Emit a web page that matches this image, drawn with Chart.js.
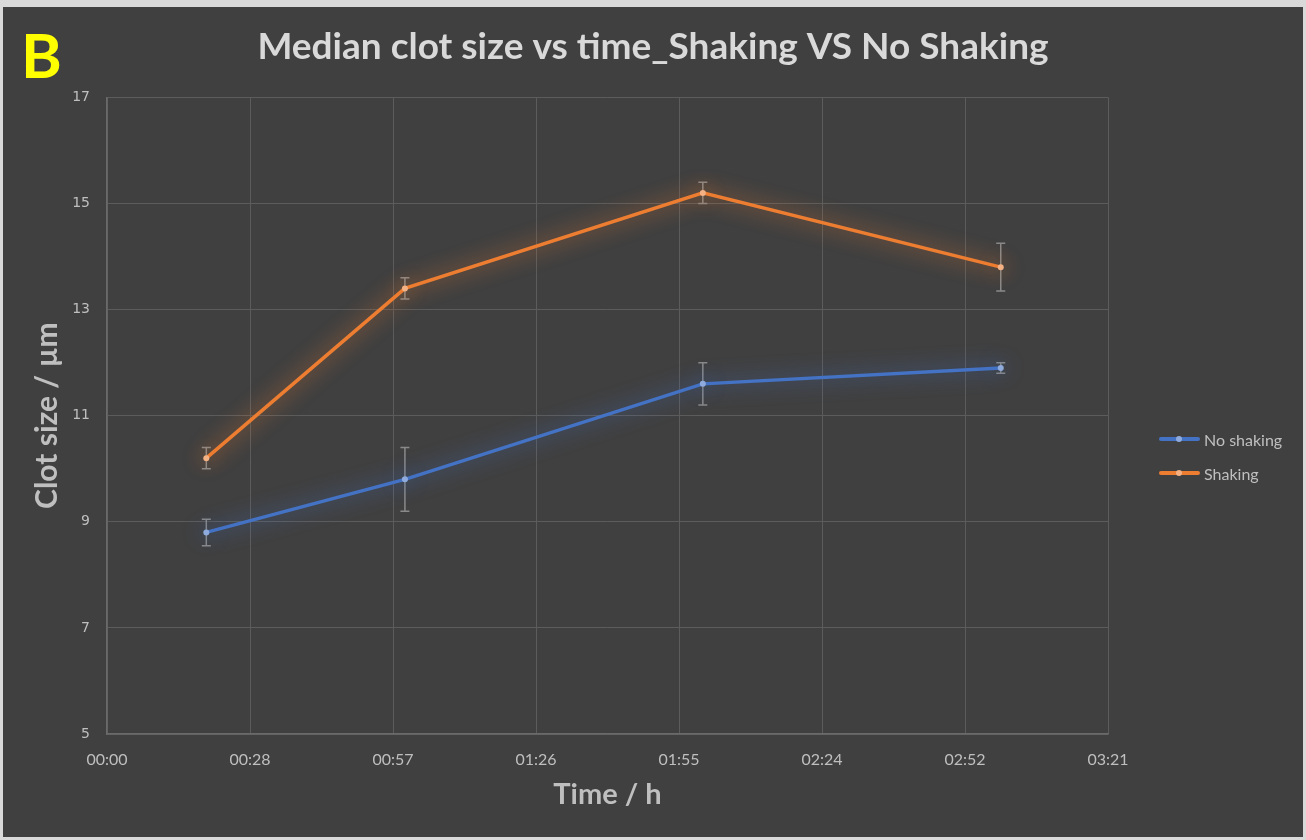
<!DOCTYPE html>
<html>
<head>
<meta charset="utf-8">
<script src="https://cdn.jsdelivr.net/npm/chart.js@4"></script>
<style>
  html, body { margin:0; padding:0; background:#d9d9d9; width:1306px; height:840px; overflow:hidden; }
  #box { position:absolute; left:3px; top:7px; width:1300px; height:830px; background:#404040; }
  #tag { position:absolute; left:18px; top:10px; font:bold 62px Lato, sans-serif; color:#ffff00; }
  #legend { position:absolute; left:1156px; top:421px; font:16px Lato, sans-serif; color:#bfbfbf; }
  #legend .it { display:flex; align-items:center; height:22px; margin-bottom:12px; }
  #legend .mk { position:relative; width:41px; height:4px; border-radius:2px; margin-right:4px; }
  #legend .mk i { position:absolute; left:17px; top:-1px; width:6px; height:6px; border-radius:3px; }
</style>
</head>
<body>
<div id="box">
  <canvas id="c" width="1300" height="830"></canvas>
  <div id="tag">B</div>
  <div id="legend"></div>
</div>
<script>
// Median clot size vs time, shaking vs no shaking (minutes on x, shown as hh:mm)
const timeMin = [20, 60, 120, 180];
const noShaking = [8.8, 9.8, 11.6, 11.9];
const noShakingErr = [0.25, 0.6, 0.4, 0.1];
const shaking = [10.2, 13.4, 15.2, 13.8];
const shakingErr = [0.2, 0.2, 0.2, 0.45];
const xTicks = [0, 28.8, 57.6, 86.4, 115.2, 144, 172.8, 201.6];
const xTickLabels = ["00:00","00:28","00:57","01:26","01:55","02:24","02:52","03:21"];
const yTicks = [5, 7, 9, 11, 13, 15, 17];

const GRID = "#5c5c5c";
const TXT = "#bfbfbf";

const pts = (ys) => timeMin.map((t, i) => ({ x:t, y:ys[i] }));

// soft glow behind each series
const glow = {
  id:"glow",
  beforeDatasetDraw(c, args) {
    const ds = c.data.datasets[args.index];
    c.ctx.save();
    c.ctx.shadowColor = ds.glowColor;
    c.ctx.shadowBlur = 20;
  },
  afterDatasetDraw(c) { c.ctx.restore(); },
};

// error bars (drawn under the lines)
const errorBars = {
  id:"errorBars",
  beforeDatasetsDraw(c) {
    const { ctx, scales:{ x, y } } = c;
    ctx.save();
    ctx.strokeStyle = "#8a8a8a";
    ctx.lineWidth = 1.5;
    c.data.datasets.forEach((ds) => {
      ds.data.forEach((p, i) => {
        const px = x.getPixelForValue(p.x);
        const top = y.getPixelForValue(p.y + ds.err[i]);
        const bot = y.getPixelForValue(p.y - ds.err[i]);
        ctx.beginPath();
        ctx.moveTo(px, top); ctx.lineTo(px, bot);
        ctx.moveTo(px-4.5, top); ctx.lineTo(px+4.5, top);
        ctx.moveTo(px-4.5, bot); ctx.lineTo(px+4.5, bot);
        ctx.stroke();
      });
    });
    ctx.restore();
  },
};

const datasets = [
  { label:"No shaking", data:pts(noShaking), err:noShakingErr,
    borderColor:"#4472c4", pointBackgroundColor:"#8faadc", glowColor:"rgba(68,114,196,.95)" },
  { label:"Shaking", data:pts(shaking), err:shakingErr,
    borderColor:"#ed7d31", pointBackgroundColor:"#f4b183", glowColor:"rgba(237,125,49,.95)" },
].map((d) => ({ ...d, borderWidth:3.5, pointRadius:3, pointBorderWidth:0, tension:0 }));

new Chart(document.getElementById("c"), {
  type:"line",
  data:{ datasets },
  plugins:[errorBars, glow],
  options:{
    responsive:false, animation:false,
    layout:{ padding:0 },
    scales:{
      x:{ type:"linear", min:0, max:201.6,
        afterBuildTicks:(s) => { s.ticks = xTicks.map((v) => ({ value:v })); },
        afterFit:(s) => { s.height = 103; },
        grid:{ color:GRID, drawTicks:false },
        border:{ color:"#6a6a6a", width:1.5 },
        ticks:{ color:TXT, padding:16, maxRotation:0, font:{ family:"Lato", size:16 },
          callback:(v, i) => xTickLabels[i] },
        title:{ display:true, text:"Time / h", color:TXT, padding:{ bottom:25 },
          font:{ family:"Lato", size:29, weight:"bold" } } },
      y:{ min:5, max:17,
        afterBuildTicks:(s) => { s.ticks = yTicks.map((v) => ({ value:v })); },
        afterFit:(s) => { s.width = 104; },
        grid:{ color:GRID, drawTicks:false },
        border:{ color:"#6a6a6a", width:1.5 },
        ticks:{ color:TXT, padding:17, font:{ family:"DejaVu Sans", size:14 } },
        title:{ display:true, text:"Clot size / µm", color:TXT, padding:{ top:26 },
          font:{ family:"Lato", size:30, weight:"bold" } } },
      // empty right-hand box that keeps room for the legend
      gap:{ type:"linear", position:"right", display:true,
        afterFit:(s) => { s.width = 195; },
        grid:{ display:false }, border:{ display:false }, ticks:{ display:false } },
    },
    plugins:{
      legend:{ display:false },
      tooltip:{ enabled:false },
      title:{ display:true, text:"Median clot size vs time_Shaking VS No Shaking", color:"#d9d9d9",
        padding:{ top:18, bottom:28 }, font:{ family:"Lato", size:37, weight:"bold" } },
    },
  },
});

document.getElementById("legend").innerHTML = datasets.map((d) =>
  `<div class="it"><span class="mk" style="background:${d.borderColor}"><i style="background:${d.pointBackgroundColor}"></i></span>${d.label}</div>`).join("");
</script>
</body>
</html>
